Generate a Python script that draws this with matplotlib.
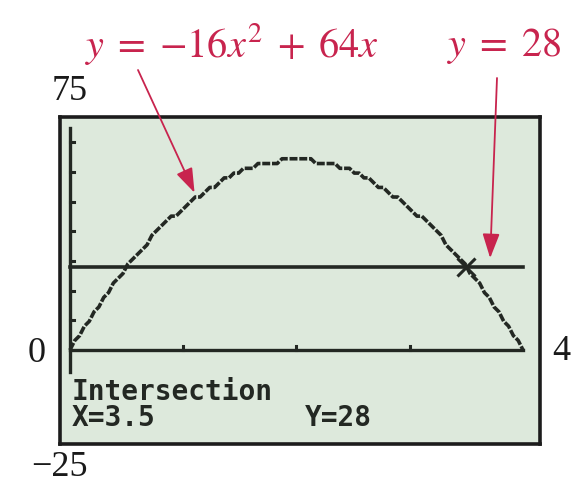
import numpy as np
import matplotlib
matplotlib.use("Agg")
import matplotlib.pyplot as plt

# viewing window (Xmin, Xmax, Ymin, Ymax) and scales
x_window = [0, 4]
y_window = [-25, 75]
x_scale = 1
y_scale = 10

# y = a x^2 + b x  and  y = c
coef_a = -16
coef_b = 64
line_c = 28

# intersection readout
isect_x = 3.5
isect_y = 28

screen_bg = '#dde9dc'
ink = '#232823'
red = '#c8244e'

plt.rcParams['mathtext.fontset'] = 'stix'

fig = plt.figure(figsize=(5.79, 4.84), dpi=100)
ax = fig.add_axes([60 / 579, 40 / 484, 480 / 579, 327 / 484])
ax.set_facecolor(screen_bg)
for s in ax.spines.values():
    s.set_linewidth(2.6)
    s.set_color('#1c1c1c')
ax.set_xticks([])
ax.set_yticks([])

# pixel size of the 95x63 calculator screen
px = (x_window[1] - x_window[0]) / 94
py = (y_window[1] - y_window[0]) / 62

ax.set_xlim(x_window[0] - 0.088, x_window[1] + 0.15)
ax.set_ylim(-31.7, 78.6)

# axes of the calculator graph
ax.plot([0, x_window[1]], [0, 0], color=ink, lw=2.4, zorder=2)
ax.plot([0, 0], [-7.5, y_window[1]], color=ink, lw=2.4, zorder=2)
for xt in np.arange(x_scale, x_window[1], x_scale):
    ax.plot([xt, xt], [0, 1.4], color=ink, lw=2.2, zorder=2)
for yt in np.arange(y_scale, y_window[1], y_scale):
    ax.plot([0, 0.035], [yt, yt], color=ink, lw=2.2, zorder=2)

# parabola, snapped to screen pixels
xs = np.arange(0, x_window[1] + px / 2, px)
ys = coef_a * xs ** 2 + coef_b * xs
ys_px = np.round(ys / py) * py
ax.plot(xs, ys_px, color=ink, lw=2.6, ls=(0, (2.2, 0.5)), zorder=3)

# horizontal line
ax.plot([0, x_window[1]], [line_c, line_c], color=ink, lw=2.6, zorder=3)

# cursor at the intersection
ax.plot(isect_x, isect_y, marker='x', ms=13, mew=2.2, color=ink, zorder=4)

# readout text in the screen
calc_font = dict(family='DejaVu Sans Mono', fontweight='bold', color=ink,
                 fontsize=20)
ax.text(72, 484 - 392, 'Intersection', transform=None, va='center',
        ha='left', **calc_font)
ax.text(72, 484 - 418, f'X={isect_x:g}', transform=None, va='center',
        ha='left', **calc_font)
ax.text(305, 484 - 418, f'Y={isect_y:g}', transform=None, va='center',
        ha='left', **calc_font)

# window values around the screen
num_font = dict(family='Liberation Serif', fontsize=26, color='#1a1a1a')
fig.text(52 / 579, 1 - 92 / 484, f'{y_window[1]}', ha='left', va='center', **num_font)
fig.text(37 / 579, 1 - 353 / 484, f'{x_window[0]}', ha='center', va='center', **num_font)
fig.text(561 / 579, 1 - 351 / 484, f'{x_window[1]}', ha='center', va='center', **num_font)
fig.text(59 / 579, 1 - 468 / 484, f'\u2212{abs(y_window[0])}', ha='center',
         va='center', **num_font)

# equation labels with arrows
fig.text(85 / 579, 1 - 57 / 484,
         rf'$y\;=\;{{-}}{abs(coef_a)}x^2\;+\;{coef_b}x$',
         ha='left', va='baseline', fontsize=29, color=red)
fig.text(447 / 579, 1 - 56 / 484, rf'$y\;=\;{line_c}$',
         ha='left', va='baseline', fontsize=29, color=red)

arrow = dict(arrowstyle='-|>,head_length=1.0,head_width=0.35',
             color=red, lw=1.3, mutation_scale=15, shrinkA=0, shrinkB=0)
xa = 1.1
ax.annotate('', xy=(xa, coef_a * xa ** 2 + coef_b * xa + 2), xycoords='data',
            xytext=(138, 484 - 70), textcoords='figure pixels',
            arrowprops=arrow)
ax.annotate('', xy=(3.71, line_c + 3), xycoords='data',
            xytext=(497, 484 - 78), textcoords='figure pixels',
            arrowprops=arrow)

fig.savefig('out.png', dpi=100, facecolor='white')
